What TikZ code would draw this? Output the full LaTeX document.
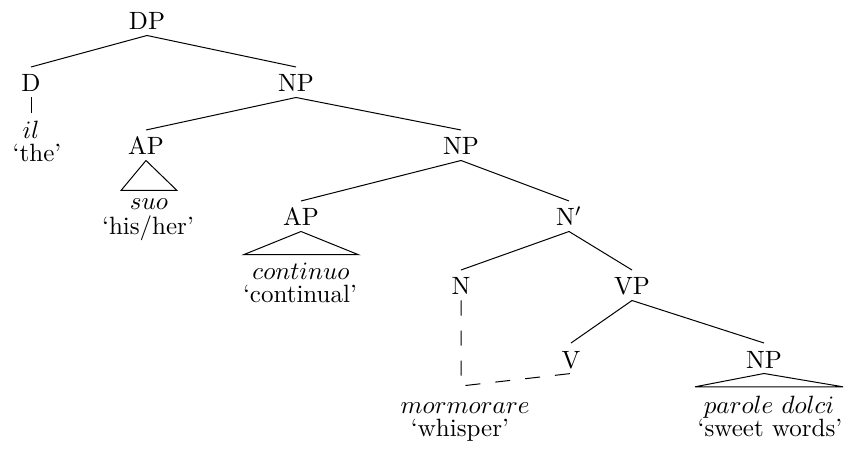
\documentclass[tikz,border=0pt]{standalone}
\begin{document}
\begin{tikzpicture}[x=0.4pt, y=-0.4pt,
        cat/.style={anchor=base, inner xsep=1pt, inner ysep=2pt, text height=7.8pt, text depth=0pt},
        word/.style={anchor=base},
        gloss/.style={anchor=base}]
        \useasboundingbox (0,0) rectangle (844,451);

        % --- categories ---
        \node[cat] (dp)   at (147,30)  {DP};
        \node[cat] (d)    at (31,92)   {D};
        \node[cat] (np1)  at (296,92)  {NP};
        \node[cat] (ap1)  at (146,155) {AP};
        \node[cat] (np2)  at (461,155) {NP};
        \node[cat] (ap2)  at (301,226) {AP};
        \node[cat] (nbar) at (569,226) {N$'$};
        \node[cat] (n)    at (461,295) {N};
        \node[cat] (vp)   at (632,295) {VP};
        \node[cat] (v)    at (571,368) {V};
        \node[cat] (np3)  at (764,368) {NP};

        % --- words and glosses ---
        \node[word] (il)     at (31,139)  {$il$};
        \node[gloss] (the)   at (37,162)  {`the'};
        \node[word] (suo)    at (149,210) {$suo$};
        \node[gloss] (his)   at (148,235) {`his/her'};
        \node[word] (cont)   at (301,280) {$continuo$};
        \node[gloss] (contg) at (300,303) {`continual'};
        \node[word] (mor)    at (465,413) {$mormorare$};
        \node[gloss] (morg)  at (460,436) {`whisper'};
        \node[word] (parole) at (769,413) {$parole\ dolci$};
        \node[gloss] (swt)   at (770,436) {`sweet words'};

        % --- branches ---
        \foreach \p/\c in {dp/d, dp/np1, np1/ap1, np1/np2, np2/ap2, np2/nbar,
                           nbar/n, nbar/vp, vp/v, vp/np3} {
            \draw (\p.south) -- (\c.north);
        }
        \draw (d.south) -- (d.south |- il.north);

        % --- triangles ---
        \foreach \p/\c in {ap1/suo, ap2/cont, np3/parole} {
            \draw (\p.south) -- (\c.north west) -- (\c.north east) -- cycle;
        }

        % --- dashed line from N to V ---
        \coordinate (bend) at (461,386);
        \draw[dash pattern=on 6pt off 6pt] (n.south) -- (bend) -- (v.south);

    \end{tikzpicture}
\end{document}
